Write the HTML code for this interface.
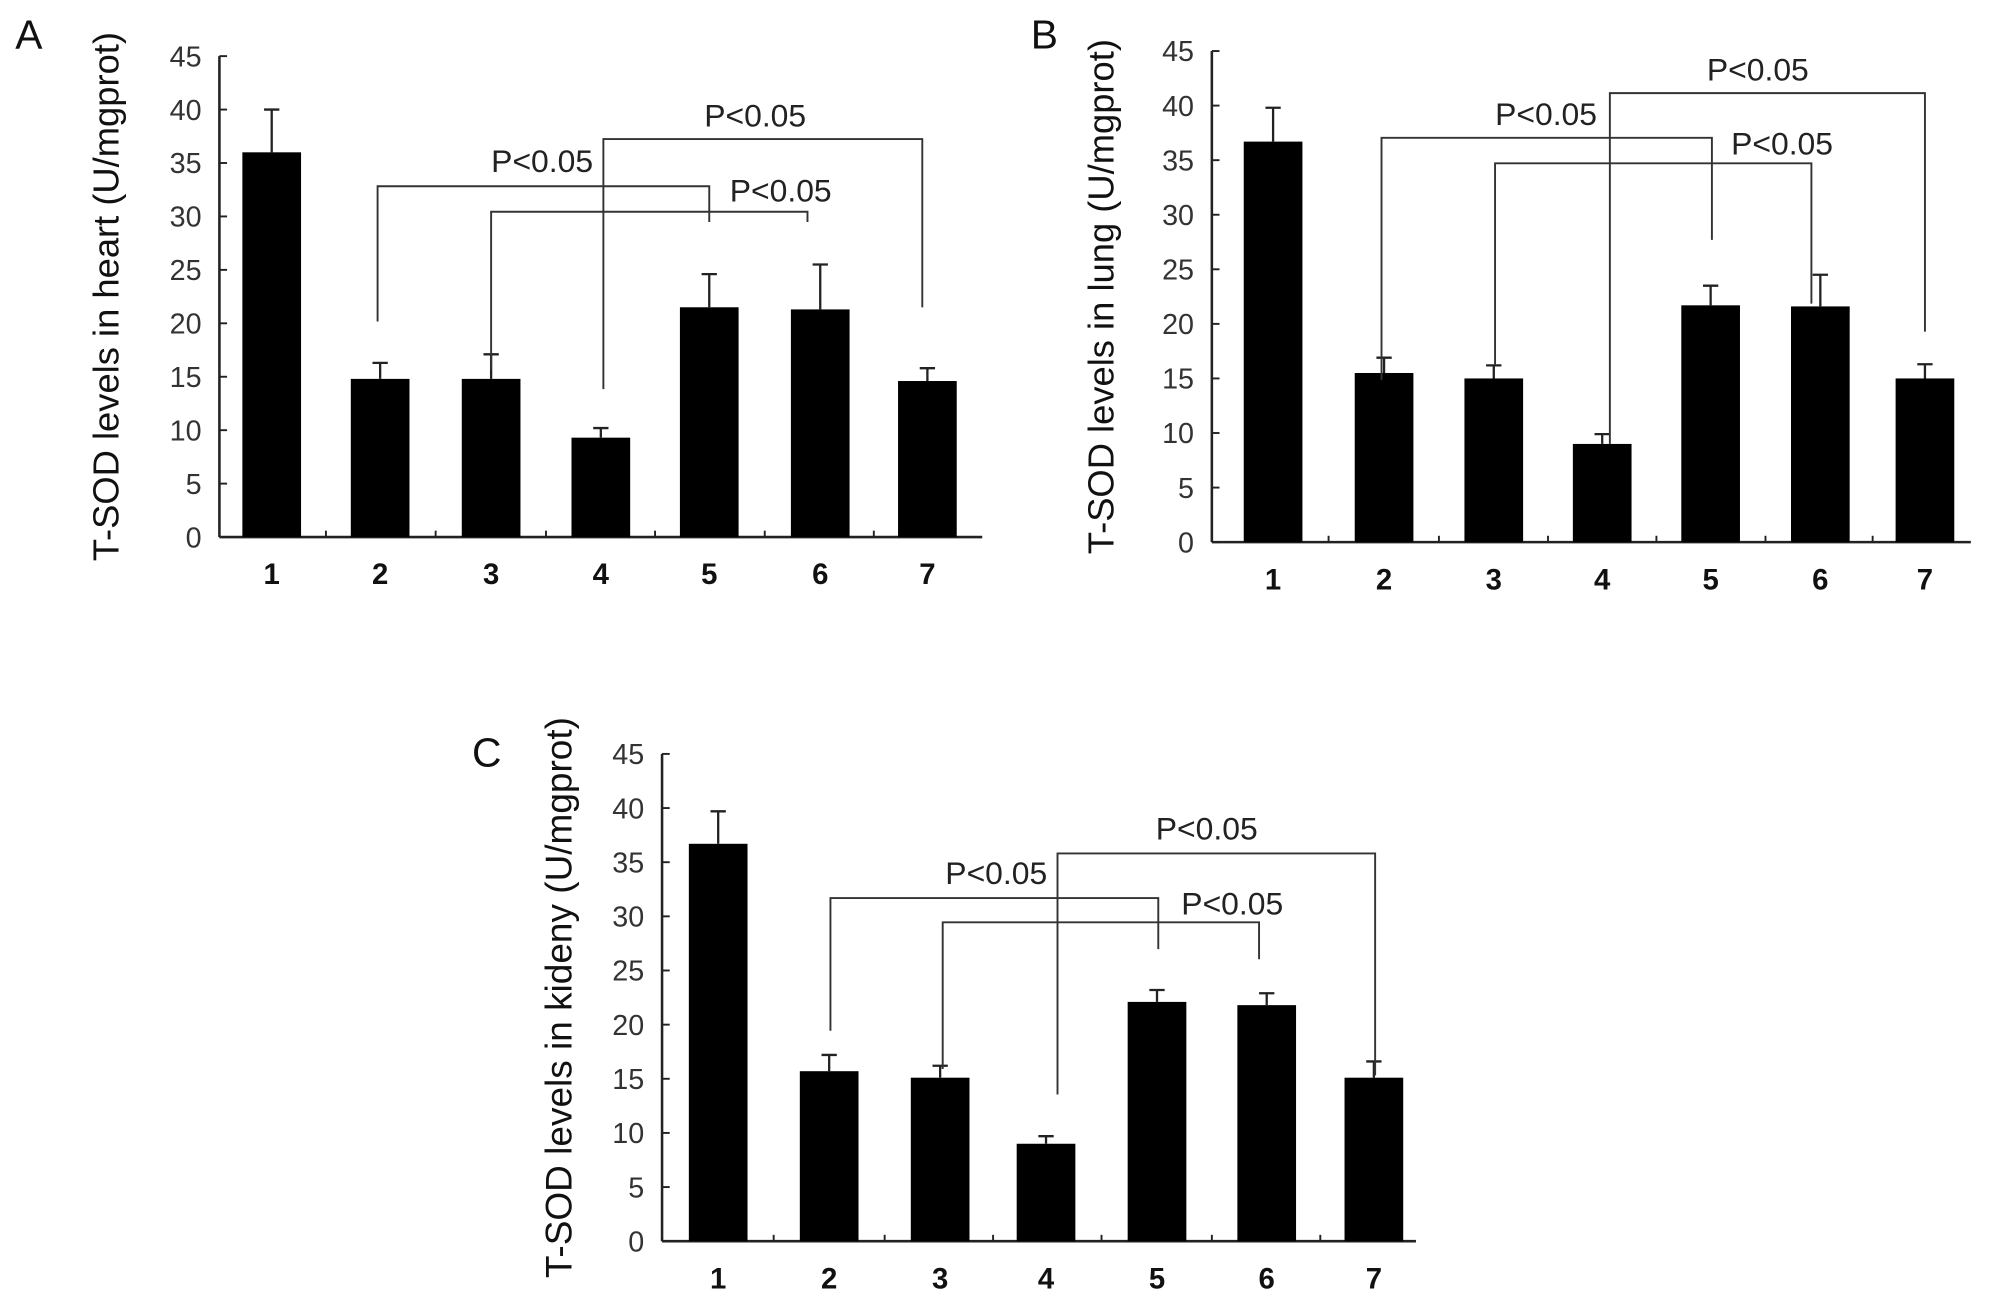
<!DOCTYPE html>
<html><head><meta charset="utf-8">
<style>html,body{margin:0;padding:0;background:#fff;}svg{display:block;}</style>
</head><body>
<svg id="fig" width="1990" height="1299" viewBox="0 0 1560 1018.3" preserveAspectRatio="none" xmlns="http://www.w3.org/2000/svg" font-family="'Liberation Sans', Arial, sans-serif"></svg>
<script>
// Data
const categories = ["1","2","3","4","5","6","7"];
const yTicks = [0,5,10,15,20,25,30,35,40,45];
const heartValues = [36.0,14.8,14.8,9.3,21.5,21.3,14.6];
const heartErrors = [4.0,1.5,2.3,0.9,3.1,4.2,1.2];
const lungValues = [36.7,15.5,15.0,9.0,21.7,21.6,15.0];
const lungErrors = [3.1,1.4,1.2,0.9,1.8,2.9,1.3];
const kidneyValues = [36.7,15.7,15.1,9.0,22.1,21.8,15.1];
const kidneyErrors = [3.0,1.5,1.1,0.7,1.1,1.1,1.5];
const comparisonPairs = [[2,5],[3,6],[4,7]];
const comparisonLabel = "P<0.05";

const NS = "http://www.w3.org/2000/svg";
const svg = document.getElementById('fig');
function mk(tag, attrs, parent){const e=document.createElementNS(NS,tag);for(const k in attrs)e.setAttribute(k,attrs[k]);(parent||svg).appendChild(e);return e;}

const panels = [
 {id:'heart', letter:'A', lx:12, ly:38, title:'T-SOD levels in heart (U/mgprot)', tx:93, tfs:28.5,
  x0:172, x1:770, yTop:44, yBot:421, centers:[213,298,385,471,556,643,727], vals:heartValues, errs:heartErrors,
  brackets:[{y:146,l:252,r:174,xl:296,xr:556},{y:166,l:290,r:174,xl:385,xr:633},{y:109,l:305,r:241,xl:473,xr:723}],
  labels:[[425,135],[612,158],[592,99]]},
 {id:'lung', letter:'B', lx:808, ly:38, title:'T-SOD levels in lung (U/mgprot)', tx:873, tfs:28.5,
  x0:950, x1:1545, yTop:40, yBot:425, centers:[998,1085,1171,1256,1341,1427,1509], vals:lungValues, errs:lungErrors,
  brackets:[{y:108,l:298,r:188,xl:1083,xr:1342},{y:128,l:286,r:238,xl:1172,xr:1420},{y:73,l:348,r:260,xl:1262,xr:1509}],
  labels:[[1212,98],[1397,121],[1378,63]]},
 {id:'kidney', letter:'C', lx:370, ly:601, title:'T-SOD levels in kideny (U/mgprot)', tx:448, tfs:29,
  x0:519, x1:1110, yTop:591, yBot:973, centers:[563,650,737,820,907,993,1077], vals:kidneyValues, errs:kidneyErrors,
  brackets:[{y:704,l:808,r:744,xl:651,xr:908},{y:723,l:838,r:752,xl:739,xr:987},{y:669,l:858,r:843,xl:829,xr:1078}],
  labels:[[781,693],[966,717],[946,658]]}
];

panels.forEach(p=>{
  const g = mk('g',{});
  
  
  const yScale = v => p.yBot - (v/45)*(p.yBot-p.yTop);
  const xScale = i => p.centers[i];
  const lt = mk('text',{x:p.lx,y:p.ly,'font-size':32,fill:'#111'},g); lt.textContent=p.letter;
   
  const ya = mk('line',{x1:p.x0,y1:p.yTop,x2:p.x0,y2:p.yBot,stroke:'#222','stroke-width':2},g);
   
  const xa = mk('line',{x1:p.x0,y1:p.yBot,x2:p.x1,y2:p.yBot,stroke:'#222','stroke-width':2},g);
   
  yTicks.forEach(t=>{
    const y=yScale(t);
    mk('line',{x1:p.x0,y1:y,x2:p.x0+6,y2:y,stroke:'#222','stroke-width':1.5},g);
    const tl=mk('text',{x:p.x0-14,y:y+8,'font-size':22.5,'text-anchor':'end',fill:'#333'},g); tl.textContent=t;
     
  });
  for(let i=0;i<categories.length-1;i++){
    const x=(xScale(i)+xScale(i+1))/2;
    mk('line',{x1:x,y1:p.yBot,x2:x,y2:p.yBot-5,stroke:'#222','stroke-width':1.5},g);
  }
  const cy=(p.yTop+p.yBot)/2;
  const title = mk('text',{x:p.tx,y:cy,'font-size':p.tfs,'text-anchor':'middle',fill:'#111',transform:`rotate(-90 ${p.tx} ${cy})`},g);
  title.textContent=p.title;
   
  categories.forEach((c,i)=>{
    const cx=xScale(i), v=p.vals[i], e=p.errs[i], w=46;
    const bar=mk('rect',{x:cx-w/2,y:yScale(v),width:w,height:p.yBot-yScale(v),fill:'#000'},g);
     
    const eb=mk('path',{d:`M${cx} ${yScale(v)}V${yScale(v+e)}M${cx-6} ${yScale(v+e)}H${cx+6}`,stroke:'#222','stroke-width':1.8,fill:'none'},g);
     
    const cl=mk('text',{x:cx,y:p.yBot+37,'font-size':23,'font-weight':'bold','text-anchor':'middle',fill:'#111'},g);
    cl.textContent=c;  
  });
  comparisonPairs.forEach((pr,k)=>{
    const b=p.brackets[k];
    const br=mk('path',{d:`M${b.xl} ${b.l}V${b.y}H${b.xr}V${b.r}`,stroke:'#333','stroke-width':1.5,fill:'none'},g);
     
    const tl=mk('text',{x:p.labels[k][0],y:p.labels[k][1],'font-size':25,'text-anchor':'middle',fill:'#222'},g);
    tl.textContent=comparisonLabel;  
  });
});
</script>
</body></html>
